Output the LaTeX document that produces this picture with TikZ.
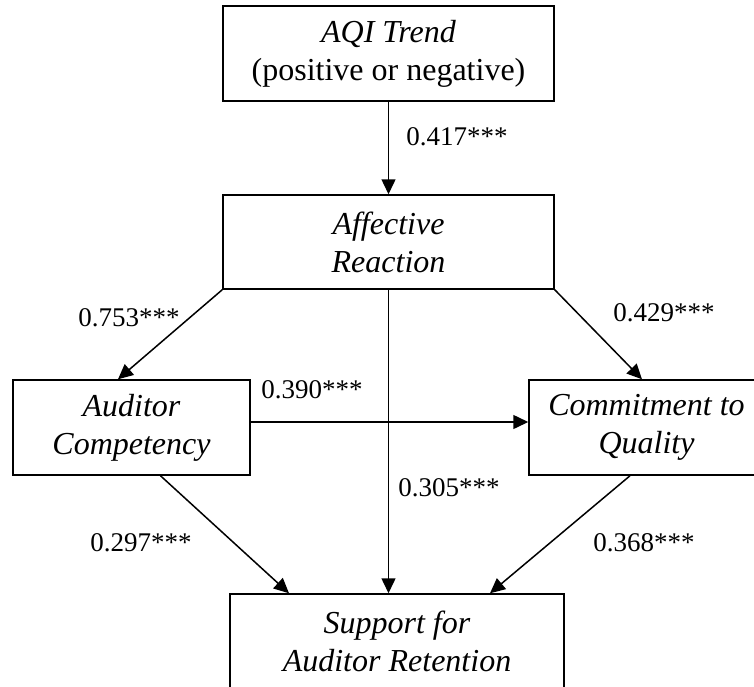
\documentclass[tikz,border=0pt]{standalone}
\usepackage{fontspec}
\setmainfont{Liberation Serif}
\usetikzlibrary{arrows.meta}

\tikzstyle{construct}=[draw,line width=1.5pt,inner sep=0pt,align=center,minimum height=95pt,font=\fontsize{32}{38}\selectfont\itshape]
\tikzstyle{effect}=[line width=1.5pt,-{Triangle[length=15pt,width=14pt]}]
\tikzstyle{coef}=[inner sep=0pt,font=\fontsize{27}{30}\selectfont]

\begin{document}
\begin{tikzpicture}[x=1pt,y=-1pt]
    \useasboundingbox (0,0) rectangle (754,687);
    \clip (0,0) rectangle (754,687);
    %Constructs
    \node[construct,minimum width=331pt] (aqi) at (388.5,53.5) {AQI Trend\\\upshape(positive or negative)};
    \node[construct,minimum width=331pt,minimum height=94pt] (aff) at (388.5,242) {Affective\\Reaction};
    \node[construct,minimum width=237pt] (aud) at (131.5,427.5) {Auditor\\Competency};
    \node[construct,minimum width=235pt] (com) at (646.5,427.5) {Commitment to\\Quality};
    \node[construct,minimum width=334pt] (sup) at (397,641.5) {Support for\\Auditor Retention};
    %Paths
    \draw[effect] (aqi) -- (aff);
    \draw[effect] (aff.south west) -- ([xshift=-13.5pt]aud.north);
    \draw[effect] (aff.south east) -- ([xshift=-4.5pt]com.north);
    \draw[effect] ([yshift=5.5pt]aud.east) -- ([yshift=5.5pt]com.west);
    \draw[effect] (aff) -- (aff |- sup.north);
    \draw[effect] ([xshift=29pt]aud.south) -- ([xshift=-108pt]sup.north);
    \draw[effect] ([xshift=-16.5pt]com.south) -- ([xshift=93pt]sup.north);
    %Coefficients
    \foreach \pos/\name/\val in {{(457,137)/b1/0.417}, {(129,318)/b2/0.753},
                                 {(664,313)/b3/0.429}, {(312,390)/b4/0.390},
                                 {(449,488)/b5/0.305}, {(141,543)/b6/0.297},
                                 {(644,543)/b7/0.368}}
    \node[coef] (\name) at \pos {\val***};
\end{tikzpicture}
\end{document}
